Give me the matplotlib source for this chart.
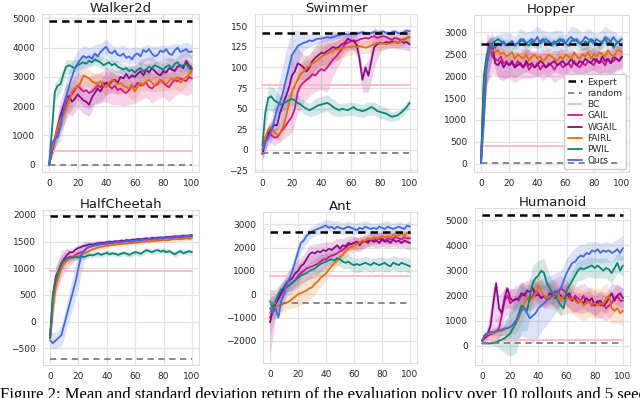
import numpy as np
import matplotlib
matplotlib.use("Agg")
import matplotlib.pyplot as plt
import seaborn as sns

# ---------------- data ----------------
iters = np.arange(0, 101, 2)        # evaluation iterations of the mean curves
iters_sd = np.arange(0, 101, 4)     # iterations where std was read

methods = ["GAIL", "WGAIL", "FAIRL", "PWIL", "Ours"]

# Walker2d
walker_expert, walker_random, walker_bc = 4900, 0, 460
walker_gail = [0, 500, 850, 1200, 1500, 1800, 2100, 2300, 2400, 2550,
               2700, 2600, 2500, 2550, 2450, 2500, 2600, 2700, 2650, 2800,
               2750, 2700, 2600, 2700, 2550, 2600, 2500, 2450, 2550, 2700,
               2650, 2800, 2700, 2750, 2800, 2650, 2600, 2700, 2750, 2900,
               2800, 2700, 2650, 2800, 2900, 2850, 2950, 2900, 2850, 3000,
               2950]
walker_wgail = [0, 450, 900, 1300, 1700, 2000, 2300, 2350, 2150, 2250,
                2400, 2300, 2200, 2150, 2050, 2300, 2450, 2600, 2500, 2700,
                2800, 2750, 2850, 2900, 2800, 3000, 2950, 3100, 2950, 3050,
                3000, 3100, 3200, 3050, 3250, 3150, 3300, 3200, 3100, 3050,
                3200, 3150, 3300, 3250, 3200, 3350, 3400, 3300, 3550, 3400,
                3300]
walker_fairl = [0, 550, 900, 1250, 1550, 1700, 1900, 2200, 2500, 2600,
                2650, 2800, 3050, 3000, 2950, 2850, 2800, 2750, 2850, 2700,
                2650, 2800, 2900, 2850, 2750, 2800, 2700, 2650, 2600, 2750,
                2500, 2650, 2800, 2700, 2850, 2900, 2800, 2700, 2800, 2900,
                2850, 2750, 2850, 2950, 2900, 3000, 2800, 2900, 3000, 3100,
                3200]
walker_pwil = [0, 1200, 2500, 2700, 2750, 3100, 3350, 3400, 3350, 3300,
               3400, 3450, 3500, 3450, 3550, 3500, 3600, 3550, 3500, 3400,
               3450, 3500, 3400, 3450, 3350, 3300, 3250, 3300, 3200, 3250,
               3150, 3250, 3300, 3200, 3250, 3350, 3300, 3400, 3350, 3300,
               3250, 3350, 3400, 3300, 3450, 3500, 3350, 3400, 3450, 3300,
               3250]
walker_ours = [0, 750, 880, 950, 1300, 1850, 2300, 2700, 3000, 3300,
               3450, 3600, 3720, 3650, 3700, 3620, 3800, 3700, 3850, 3950,
               4030, 3850, 3800, 3900, 3750, 3720, 3800, 3650, 3700, 3600,
               3750, 3800, 3700, 3920, 3850, 3950, 3800, 3700, 3750, 3900,
               3850, 3950, 3800, 3750, 3900, 4000, 3850, 3900, 3950, 3850,
               3870]
walker_gail_sd = [0, 300, 400, 500, 500, 500, 500, 550, 500, 500, 600, 550, 500,
                  500, 500, 550, 500, 500, 500, 500, 500, 500, 550, 500, 500, 500]
walker_wgail_sd = [0, 300, 500, 500, 500, 450, 450, 400, 400, 400, 400, 400, 400,
                   400, 400, 400, 400, 400, 400, 400, 400, 400, 400, 400, 400, 400]
walker_fairl_sd = [0, 300, 400, 400, 400, 350, 350, 300, 300, 320, 300, 300, 350,
                   300, 300, 320, 300, 300, 300, 300, 320, 300, 300, 300, 300, 300]
walker_pwil_sd = [0, 300, 300, 250, 220, 200, 200, 220, 200, 200, 200, 180, 200,
                  200, 200, 220, 200, 200, 200, 180, 200, 200, 200, 200, 200, 200]
walker_ours_sd = [0, 300, 500, 600, 550, 450, 350, 300, 300, 300, 280, 300, 260,
                  300, 250, 280, 300, 260, 250, 300, 250, 270, 250, 260, 250, 220]

# Swimmer
swim_expert, swim_random, swim_bc = 142, -4, 79
swim_gail = [-5, 10, 20, 18, 15, 15, 20, 25, 30, 35,
             40, 50, 70, 78, 82, 85, 88, 92, 90, 95,
             98, 96, 100, 105, 110, 113, 118, 122, 128, 130,
             132, 133, 132, 134, 135, 136, 135, 137, 138, 136,
             137, 138, 137, 135, 134, 136, 135, 133, 134, 136,
             137]
swim_wgail = [-5, 15, 20, 25, 30, 30, 45, 55, 65, 75,
              90, 95, 105, 103, 100, 95, 100, 108, 112, 115,
              118, 117, 120, 122, 125, 123, 125, 128, 130, 135,
              133, 132, 128, 110, 85, 100, 90, 108, 125, 128,
              130, 129, 131, 130, 132, 131, 130, 132, 130, 131,
              128]
swim_fairl = [0, 15, 25, 28, 22, 18, 20, 28, 40, 55,
              70, 78, 85, 92, 95, 100, 102, 105, 107, 110,
              113, 115, 117, 118, 120, 122, 122, 123, 124, 125,
              125, 126, 125, 126, 125, 124, 125, 127, 128, 130,
              129, 130, 128, 129, 130, 131, 130, 132, 133, 135,
              137]
swim_pwil = [5, 45, 63, 65, 60, 58, 55, 56, 58, 60,
             62, 60, 57, 55, 52, 50, 48, 50, 52, 54,
             55, 56, 57, 55, 52, 50, 48, 50, 49, 48,
             50, 52, 49, 48, 47, 48, 50, 52, 50, 47,
             46, 45, 44, 42, 40, 41, 42, 45, 48, 52,
             57]
swim_ours = [0, 10, 14, 22, 35, 50, 58, 70, 85, 100,
             115, 120, 126, 128, 130, 131, 133, 132, 134, 135,
             135, 136, 137, 136, 137, 138, 139, 140, 141, 140,
             141, 142, 141, 142, 143, 142, 141, 142, 143, 142,
             143, 144, 142, 141, 143, 144, 142, 141, 143, 145,
             144]
swim_gail_sd = [8, 10, 10, 10, 15, 20, 25, 25, 22, 20, 25, 30, 20,
                15, 12, 10, 10, 8, 8, 8, 8, 8, 8, 8, 8, 8]
swim_wgail_sd = [8, 10, 10, 15, 20, 25, 20, 15, 15, 15, 15, 20, 20,
                 15, 10, 10, 10, 15, 20, 25, 10, 8, 8, 8, 8, 8]
swim_fairl_sd = [5, 8, 8, 10, 15, 15, 15, 15, 15, 15, 15, 12, 12,
                 12, 10, 10, 8, 8, 8, 8, 8, 6, 6, 6, 6, 6]
swim_pwil_sd = [5, 15, 15, 10, 8, 8, 8, 8, 8, 10, 10, 10, 10,
                8, 8, 8, 8, 8, 8, 8, 8, 8, 6, 6, 6, 6]
swim_ours_sd = [5, 10, 20, 30, 35, 30, 20, 10, 8, 6, 5, 5, 4,
                4, 4, 4, 4, 3, 3, 3, 3, 3, 3, 3, 4, 4]

# Hopper
hop_expert, hop_random, hop_bc = 2730, 15, 400
hop_gail = [20, 1900, 2400, 2750, 2450, 2400, 2350, 2450, 2300, 2350,
            2250, 2300, 2200, 2350, 2250, 2200, 2300, 2150, 2250, 2200,
            2300, 2150, 2250, 2200, 2300, 2250, 2150, 2250, 2300, 2200,
            2250, 2300, 2200, 2350, 2250, 2200, 2300, 2250, 2350, 2300,
            2250, 2400, 2300, 2350, 2250, 2400, 2300, 2350, 2400, 2350,
            2450]
hop_wgail = [20, 1600, 2300, 2600, 2700, 2300, 2250, 2350, 2200, 2300,
             2250, 2350, 2200, 2250, 2300, 2200, 2350, 2250, 2300, 2200,
             2250, 2350, 2300, 2200, 2250, 2300, 2350, 2250, 2300, 2350,
             2250, 2300, 2400, 2300, 2250, 2350, 2300, 2400, 2350, 2300,
             2400, 2350, 2300, 2450, 2350, 2400, 2300, 2450, 2400, 2350,
             2450]
hop_fairl = [20, 1800, 2400, 2550, 2600, 2550, 2600, 2500, 2550, 2450,
             2500, 2550, 2400, 2500, 2450, 2400, 2500, 2350, 2450, 2500,
             2400, 2450, 2350, 2400, 2500, 2450, 2400, 2350, 2450, 2400,
             2500, 2450, 2400, 2550, 2450, 2400, 2500, 2450, 2550, 2400,
             2500, 2450, 2550, 2500, 2450, 2600, 2500, 2450, 2550, 2600,
             2550]
hop_pwil = [20, 2000, 2500, 2650, 2750, 2800, 2850, 2800, 2750, 2700,
            2750, 2800, 2700, 2750, 2800, 2850, 2750, 2700, 2800, 2750,
            2700, 2800, 2850, 2750, 2800, 2700, 2750, 2800, 2850, 2800,
            2750, 2700, 2800, 2850, 2800, 2750, 2700, 2800, 2750, 2850,
            2800, 2750, 2700, 2800, 2850, 2750, 2800, 2650, 2750, 2800,
            2850]
hop_ours = [20, 950, 2300, 2600, 2700, 2650, 2750, 2700, 2800, 2700,
            2750, 2800, 2700, 2750, 2850, 2800, 2750, 2800, 2850, 2800,
            2900, 2750, 2800, 2850, 2800, 2750, 2800, 2700, 2800, 2850,
            2750, 2850, 2900, 2800, 2850, 2750, 2800, 2900, 2850, 2800,
            2750, 2850, 2800, 2750, 2900, 2850, 2800, 2900, 2800, 2750,
            2700]
hop_gail_sd = [10, 600, 400, 350, 350, 300, 350, 300, 350, 300, 300, 350, 300,
               300, 350, 300, 300, 300, 350, 300, 300, 300, 300, 300, 300, 300]
hop_wgail_sd = [10, 500, 300, 300, 300, 250, 250, 250, 250, 250, 250, 250, 250,
                250, 250, 250, 250, 250, 250, 250, 250, 250, 250, 250, 250, 250]
hop_fairl_sd = [10, 400, 200, 200, 150, 150, 150, 150, 150, 150, 150, 150, 150,
                150, 150, 150, 150, 150, 150, 150, 150, 150, 150, 150, 150, 150]
hop_pwil_sd = [10, 300, 150, 100, 100, 100, 100, 100, 100, 100, 100, 100, 100,
               100, 100, 100, 100, 100, 100, 100, 100, 100, 100, 100, 100, 100]
hop_ours_sd = [10, 500, 200, 200, 200, 250, 200, 250, 250, 200, 250, 250, 200,
               250, 250, 200, 250, 250, 200, 250, 250, 200, 250, 250, 200, 200]

# HalfCheetah
hc_expert, hc_random, hc_bc = 1970, -700, 950
hc_gail = [-300, 400, 750, 950, 1080, 1150, 1180, 1220, 1200, 1250,
           1280, 1300, 1320, 1380, 1400, 1420, 1430, 1440, 1450, 1460,
           1460, 1470, 1480, 1490, 1480, 1500, 1500, 1510, 1500, 1520,
           1530, 1520, 1530, 1540, 1550, 1540, 1550, 1560, 1550, 1570,
           1560, 1570, 1580, 1570, 1580, 1590, 1580, 1590, 1600, 1590,
           1600]
hc_wgail = [-300, 500, 850, 950, 1100, 1180, 1250, 1300, 1300, 1350,
            1380, 1400, 1420, 1430, 1450, 1440, 1460, 1470, 1480, 1470,
            1490, 1500, 1490, 1510, 1500, 1520, 1510, 1530, 1520, 1540,
            1530, 1550, 1540, 1550, 1560, 1550, 1570, 1560, 1570, 1580,
            1570, 1590, 1580, 1590, 1600, 1590, 1600, 1610, 1600, 1610,
            1620]
hc_fairl = [-300, 300, 650, 850, 1000, 1100, 1150, 1180, 1200, 1220,
            1230, 1250, 1280, 1300, 1330, 1350, 1370, 1390, 1400, 1410,
            1420, 1430, 1440, 1440, 1450, 1450, 1460, 1460, 1470, 1470,
            1480, 1480, 1490, 1490, 1500, 1500, 1510, 1510, 1520, 1520,
            1530, 1520, 1530, 1540, 1540, 1550, 1540, 1550, 1560, 1550,
            1560]
hc_pwil = [-300, 500, 800, 950, 1100, 1150, 1180, 1200, 1200, 1210,
           1200, 1220, 1210, 1230, 1250, 1240, 1260, 1280, 1250, 1270,
           1290, 1260, 1280, 1270, 1250, 1270, 1290, 1270, 1250, 1280,
           1300, 1290, 1270, 1310, 1340, 1320, 1300, 1330, 1340, 1310,
           1330, 1300, 1320, 1290, 1260, 1300, 1320, 1280, 1300, 1320,
           1300]
hc_ours = [-350, -400, -350, -300, -250, -50, 150, 350, 550, 750,
           1000, 1250, 1330, 1380, 1400, 1420, 1440, 1450, 1460, 1450,
           1470, 1480, 1470, 1490, 1500, 1490, 1500, 1510, 1500, 1520,
           1510, 1530, 1520, 1540, 1530, 1550, 1540, 1560, 1550, 1570,
           1560, 1580, 1570, 1580, 1590, 1580, 1600, 1590, 1610, 1600,
           1610]
hc_gail_sd = [100, 250, 250, 200, 100, 60, 50, 50, 50, 40, 40, 40, 40,
              40, 40, 40, 40, 40, 40, 40, 40, 40, 40, 40, 40, 40]
hc_wgail_sd = [100, 200, 150, 100, 80, 60, 50, 50, 50, 40, 40, 40, 40,
               40, 40, 40, 40, 40, 40, 40, 40, 40, 40, 40, 40, 40]
hc_fairl_sd = [100, 150, 100, 80, 60, 50, 50, 40, 40, 40, 40, 40, 40,
               40, 40, 40, 40, 40, 40, 40, 40, 40, 40, 40, 40, 40]
hc_pwil_sd = [100, 100, 80, 60, 50, 50, 50, 50, 50, 50, 50, 50, 50,
              50, 50, 50, 50, 50, 50, 50, 50, 50, 50, 50, 50, 50]
hc_ours_sd = [150, 150, 200, 250, 300, 350, 200, 80, 60, 50, 50, 50, 40,
              40, 40, 40, 40, 40, 40, 40, 40, 40, 40, 40, 40, 40]

# Ant
ant_expert, ant_random, ant_bc = 2670, -390, 800
ant_gail = [-1000, -700, -400, -200, 0, 200, 300, 400, 500, 600,
            800, 900, 1000, 1100, 1150, 1200, 1250, 1300, 1400, 1500,
            1500, 1600, 1650, 1700, 1750, 1850, 1900, 2000, 2100, 2150,
            2200, 2250, 2200, 2300, 2250, 2300, 2350, 2300, 2400, 2350,
            2400, 2300, 2400, 2350, 2400, 2450, 2400, 2350, 2450, 2400,
            2400]
ant_wgail = [-1200, -700, -400, -200, 100, 300, 500, 600, 700, 900,
             1000, 1200, 1300, 1500, 1700, 1800, 1750, 1850, 1800, 1900,
             1850, 1950, 1900, 2000, 2100, 1950, 2100, 2050, 2200, 2150,
             2200, 2250, 2100, 2250, 2300, 2200, 2350, 2250, 2300, 2200,
             2350, 2250, 2300, 2200, 2350, 2250, 2300, 2200, 2300, 2250,
             2200]
ant_fairl = [-800, -600, -550, -500, -450, -400, -350, -300, -200, -100,
             0, 50, 100, 150, 250, 300, 450, 550, 700, 800,
             900, 1050, 1200, 1350, 1450, 1600, 1700, 1850, 1950, 2050,
             2050, 2150, 2200, 2300, 2300, 2400, 2350, 2450, 2400, 2450,
             2500, 2450, 2500, 2450, 2550, 2500, 2550, 2600, 2500, 2650,
             2600]
ant_pwil = [-300, -600, -300, 0, 200, 300, 350, 400, 500, 600,
            700, 800, 850, 900, 1000, 1050, 1100, 1200, 1300, 1350,
            1400, 1450, 1500, 1450, 1550, 1500, 1400, 1350, 1400, 1300,
            1250, 1300, 1250, 1300, 1350, 1300, 1250, 1350, 1300, 1250,
            1300, 1350, 1250, 1200, 1350, 1300, 1250, 1350, 1300, 1250,
            1200]
ant_ours = [-600, -800, -600, -1000, -300, 0, 450, 700, 1000, 1400,
            1800, 2200, 2300, 2500, 2600, 2700, 2750, 2800, 2850, 2900,
            2950, 2850, 2900, 2800, 2900, 2850, 2800, 2850, 2900, 2850,
            2800, 2750, 2850, 2800, 2900, 2850, 2800, 2850, 2800, 2900,
            2850, 2800, 2900, 2850, 2800, 2850, 2900, 2850, 2800, 2950,
            2900]
ant_gail_sd = [800, 400, 400, 400, 400, 500, 500, 500, 500, 400, 300, 300, 300,
               250, 250, 250, 250, 250, 250, 250, 250, 250, 250, 250, 250, 250]
ant_wgail_sd = [1400, 600, 400, 400, 500, 500, 400, 400, 400, 400, 400, 350, 300,
                300, 300, 300, 300, 300, 300, 300, 300, 300, 300, 300, 300, 300]
ant_fairl_sd = [300, 300, 300, 300, 400, 500, 500, 500, 450, 400, 300, 250, 250,
                250, 250, 250, 250, 200, 200, 200, 200, 200, 200, 200, 200, 200]
ant_pwil_sd = [200, 300, 300, 300, 300, 300, 300, 350, 400, 400, 350, 300, 300,
               300, 300, 300, 300, 300, 300, 300, 300, 300, 300, 300, 300, 300]
ant_ours_sd = [200, 500, 500, 400, 400, 300, 300, 250, 250, 250, 250, 250, 250,
               250, 250, 250, 250, 250, 250, 250, 250, 250, 250, 250, 250, 250]

# Humanoid
hum_expert, hum_random, hum_bc = 5220, 110, 240
hum_gail = [200, 300, 400, 450, 500, 550, 700, 1200, 1800, 2000,
            1700, 1800, 1900, 1800, 2000, 2100, 1900, 1800, 2000, 2200,
            2100, 1900, 2000, 1900, 2100, 2000, 2200, 2100, 2300, 2200,
            2100, 1900, 1800, 2000, 1900, 1800, 2000, 1700, 1800, 1600,
            1700, 1800, 1600, 1700, 1500, 1600, 1700, 1900, 2000, 1800,
            1800]
hum_wgail = [200, 400, 500, 800, 1700, 2500, 1500, 1300, 1900, 2300,
             1900, 1800, 1850, 1900, 2100, 2000, 2200, 2150, 2300, 2000,
             2050, 1900, 2000, 1850, 2100, 2000, 1900, 2100, 2000, 1900,
             2000, 2100, 1800, 1900, 1700, 1800, 1700, 1900, 1800, 1900,
             1600, 1750, 1800, 1600, 1700, 1900, 2100, 1800, 2000, 2100,
             1900]
hum_fairl = [200, 450, 480, 500, 520, 550, 580, 600, 650, 700,
             750, 850, 900, 1100, 1400, 1700, 2000, 1800, 1900, 2100,
             2400, 2200, 2000, 1900, 2000, 1900, 2000, 2100, 1800, 2000,
             1900, 1850, 1900, 1800, 1700, 1800, 1600, 1700, 1750, 1650,
             1700, 1600, 1700, 1650, 1900, 2000, 1500, 1400, 1500, 1300,
             1400]
hum_pwil = [100, 100, 100, 100, 120, 150, 200, 250, 300, 400,
            500, 700, 900, 1300, 1600, 1500, 1400, 2000, 2500, 2700,
            2800, 3000, 2900, 2500, 2300, 2100, 2000, 1800, 1600, 1500,
            2200, 2400, 2600, 2800, 3000, 3100, 3050, 3100, 3150, 3200,
            3100, 3200, 3100, 3000, 3100, 3050, 2900, 3100, 3300, 3000,
            3200]
hum_ours = [200, 450, 500, 550, 550, 600, 620, 650, 700, 720,
            750, 850, 1000, 1200, 1400, 1500, 1300, 1100, 1200, 1300,
            1500, 1600, 1700, 1800, 1900, 2000, 2100, 2200, 2300, 2600,
            2900, 3100, 3300, 3350, 3500, 3600, 3550, 3700, 3650, 3800,
            3750, 3850, 3700, 3800, 3750, 3800, 3700, 3750, 3850, 3700,
            3900]
hum_gail_sd = [50, 200, 400, 500, 600, 500, 500, 500, 500, 500, 500, 500, 500,
               500, 500, 500, 500, 500, 500, 500, 500, 500, 500, 500, 500, 500]
hum_wgail_sd = [50, 300, 700, 500, 400, 400, 400, 400, 400, 400, 400, 400, 400,
                400, 400, 400, 400, 400, 400, 400, 400, 400, 400, 400, 400, 400]
hum_fairl_sd = [50, 100, 200, 200, 200, 300, 400, 500, 500, 500, 500, 500, 500,
                600, 600, 600, 600, 600, 600, 600, 600, 600, 600, 600, 600, 600]
hum_pwil_sd = [50, 50, 100, 300, 600, 900, 1200, 1000, 800, 700, 600, 600, 500,
               500, 400, 400, 400, 400, 400, 400, 400, 400, 400, 400, 400, 400]
hum_ours_sd = [50, 100, 150, 200, 300, 500, 800, 1000, 1000, 1100, 1100, 1000, 900,
               800, 700, 600, 500, 500, 500, 500, 400, 400, 400, 400, 400, 500]

titles = ["Walker2d", "Swimmer", "Hopper", "HalfCheetah", "Ant", "Humanoid"]
panels = [
    (walker_expert, walker_random, walker_bc,
     [walker_gail, walker_wgail, walker_fairl, walker_pwil, walker_ours],
     [walker_gail_sd, walker_wgail_sd, walker_fairl_sd, walker_pwil_sd, walker_ours_sd]),
    (swim_expert, swim_random, swim_bc,
     [swim_gail, swim_wgail, swim_fairl, swim_pwil, swim_ours],
     [swim_gail_sd, swim_wgail_sd, swim_fairl_sd, swim_pwil_sd, swim_ours_sd]),
    (hop_expert, hop_random, hop_bc,
     [hop_gail, hop_wgail, hop_fairl, hop_pwil, hop_ours],
     [hop_gail_sd, hop_wgail_sd, hop_fairl_sd, hop_pwil_sd, hop_ours_sd]),
    (hc_expert, hc_random, hc_bc,
     [hc_gail, hc_wgail, hc_fairl, hc_pwil, hc_ours],
     [hc_gail_sd, hc_wgail_sd, hc_fairl_sd, hc_pwil_sd, hc_ours_sd]),
    (ant_expert, ant_random, ant_bc,
     [ant_gail, ant_wgail, ant_fairl, ant_pwil, ant_ours],
     [ant_gail_sd, ant_wgail_sd, ant_fairl_sd, ant_pwil_sd, ant_ours_sd]),
    (hum_expert, hum_random, hum_bc,
     [hum_gail, hum_wgail, hum_fairl, hum_pwil, hum_ours],
     [hum_gail_sd, hum_wgail_sd, hum_fairl_sd, hum_pwil_sd, hum_ours_sd]),
]
yticks = [np.arange(0, 5001, 1000), np.arange(-25, 151, 25), np.arange(0, 3001, 500),
          np.arange(-500, 2001, 500), np.arange(-2000, 3001, 1000), np.arange(0, 5001, 1000)]
ylims = [(-250, 5150), (-27, 165), (-190, 3400), (-810, 2090), (-2950, 3530), (-760, 5490)]

# ---------------- style / layout ----------------
colors = {"GAIL": "#d4148e", "WGAIL": "#8b0a8b", "FAIRL": "#e2700f",
          "PWIL": "#0f8478", "Ours": "#4169e1"}
bc_color = "#ffb6c1"

sns.set_style("whitegrid")
plt.rcParams["font.family"] = ["DejaVu Sans"]

W, H = 640, 398
fig = plt.figure(figsize=(W / 100, H / 100), dpi=100)
boxes = [(42, 14, 199, 172), (255, 14, 417, 172), (474, 15, 629, 172),
         (43, 210, 199, 365), (263, 212, 417, 363), (475, 208, 630, 365)]

for k, (title, panel, box) in enumerate(zip(titles, panels, boxes)):
    x0, y0, x1, y1 = box
    ax = fig.add_axes([x0 / W, 1 - y1 / H, (x1 - x0) / W, (y1 - y0) / H])
    expert, rnd, bc, means, sds = panel
    ax.plot([0, 100], [expert, expert], ls=(0, (3, 2)), color="black", lw=1.8,
            label="Expert", zorder=6)
    ax.plot([0, 100], [rnd, rnd], ls=(0, (3.5, 2.5)), color="#808080", lw=1.3,
            label="random", zorder=6)
    ax.plot([0, 100], [bc, bc], color=bc_color, lw=1.3, label="BC", zorder=2)
    for m, mean, sd in zip(methods, means, sds):
        mean = np.asarray(mean, float)
        sd = np.asarray(sd, float)
        mid = mean[::2]
        ax.fill_between(iters_sd, mid - sd, mid + sd, color=colors[m], alpha=0.18,
                        lw=0, zorder=1)
    for m, mean in zip(methods, means):
        ax.plot(iters, mean, color=colors[m], lw=1.3, label=m, zorder=3)
    ax.set_xlim(-5, 105)
    ax.set_ylim(*ylims[k])
    ax.set_xticks(np.arange(0, 101, 20))
    ax.set_yticks(yticks[k])
    ax.tick_params(labelsize=6.5, pad=1.5, colors="#262626")
    ax.set_title(title, fontsize=9.5, pad=1.5, color="#1a1a1a")
    for s in ax.spines.values():
        s.set_color("#dddddd")
    ax.grid(color="#e3e3e3", lw=0.9)
    if title == "Hopper":
        ax.legend(loc="lower right", fontsize=6.5, handlelength=1.6, handletextpad=0.6,
                  labelspacing=0.25, borderpad=0.4, frameon=True, framealpha=1,
                  edgecolor="#cccccc", bbox_to_anchor=(1.01, -0.01))

fig.text(0.0, 1 - 387 / H,
         "Figure 2: Mean and standard deviation return of the evaluation policy over 10 rollouts and 5 seeds",
         family="Liberation Serif", fontsize=12, va="top", ha="left", color="black")

fig.savefig("out.png", dpi=100)
